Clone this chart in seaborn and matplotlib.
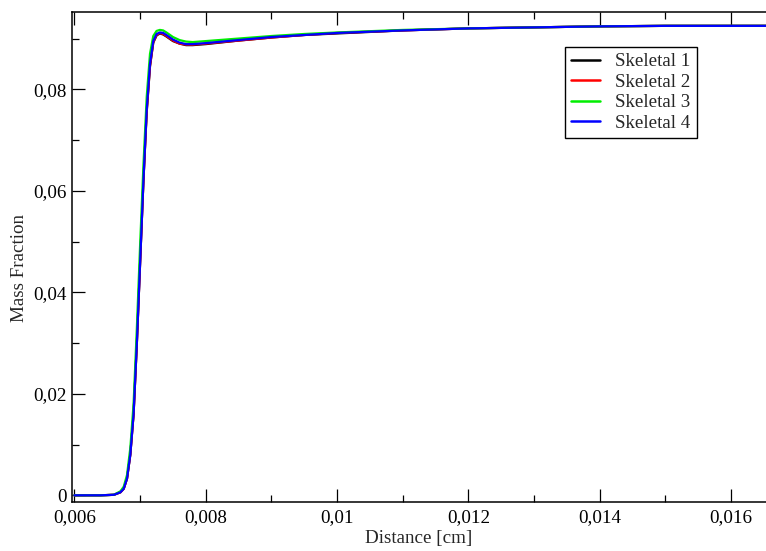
import matplotlib
matplotlib.use("Agg")
import matplotlib.pyplot as plt
from matplotlib.ticker import MultipleLocator, FuncFormatter
import seaborn as sns
import pandas as pd

# Distance along the flame [cm]
distance = [0.0060, 0.0064, 0.0066, 0.0067, 0.00675, 0.0068, 0.00685, 0.0069,
            0.00695, 0.0070, 0.00705, 0.0071, 0.00715, 0.0072, 0.00725, 0.0073,
            0.00735, 0.0074, 0.0075, 0.0076, 0.0077, 0.0078, 0.0080, 0.0085,
            0.0090, 0.0095, 0.0100, 0.0110, 0.0120, 0.0130, 0.0140, 0.0150,
            0.0160, 0.0170]

skeletal_1 = [0.0000, 0.0000, 0.0001, 0.0006, 0.0013, 0.0033, 0.0080, 0.0160,
              0.0300, 0.0460, 0.0620, 0.0755, 0.0845, 0.0892, 0.0906, 0.0910,
              0.0908, 0.0904, 0.0895, 0.0890, 0.0887, 0.0887, 0.0889, 0.0896,
              0.0902, 0.0907, 0.0910, 0.0916, 0.0920, 0.0922, 0.0924, 0.0925,
              0.0925, 0.0925]

skeletal_2 = [0.0000, 0.0000, 0.0001, 0.0006, 0.0013, 0.0033, 0.0080, 0.0160,
              0.0300, 0.0460, 0.0620, 0.0757, 0.0846, 0.0893, 0.0907, 0.0911,
              0.0909, 0.0905, 0.0896, 0.0890, 0.0888, 0.0888, 0.0890, 0.0896,
              0.0902, 0.0907, 0.0911, 0.0916, 0.0920, 0.0922, 0.0924, 0.0925,
              0.0925, 0.0925]

skeletal_3 = [0.0000, 0.0000, 0.0001, 0.0008, 0.0017, 0.0040, 0.0093, 0.0180,
              0.0330, 0.0495, 0.0650, 0.0785, 0.0870, 0.0905, 0.0915, 0.0917,
              0.0916, 0.0912, 0.0903, 0.0897, 0.0894, 0.0893, 0.0895, 0.0900,
              0.0905, 0.0909, 0.0912, 0.0917, 0.0920, 0.0922, 0.0924, 0.0925,
              0.0925, 0.0925]

skeletal_4 = [0.0000, 0.0000, 0.0001, 0.0006, 0.0013, 0.0033, 0.0080, 0.0160,
              0.0300, 0.0460, 0.0620, 0.0760, 0.0850, 0.0895, 0.0909, 0.0912,
              0.0911, 0.0907, 0.0898, 0.0892, 0.0889, 0.0889, 0.0891, 0.0897,
              0.0903, 0.0907, 0.0911, 0.0916, 0.0920, 0.0922, 0.0924, 0.0925,
              0.0925, 0.0925]

labels = ["Skeletal 1", "Skeletal 2", "Skeletal 3", "Skeletal 4"]
colors = ["#000000", "#ff0000", "#00ee00", "#0000ff"]

frames = []
for name, values in zip(labels, [skeletal_1, skeletal_2, skeletal_3, skeletal_4]):
    frames.append(pd.DataFrame({"Distance": distance, "Mass Fraction": values,
                                "Mechanism": name}))
data = pd.concat(frames, ignore_index=True)

sns.set_theme(style="ticks")
plt.rcParams["font.family"] = ["Liberation Serif", "DejaVu Serif"]

FS = 13.7
W, H = 766, 551
fig = plt.figure(figsize=(W / 100, H / 100), dpi=100)
left, right, top, bottom = 72, 766, 12, 501.7
ax = fig.add_axes([left / W, (H - bottom) / H, (right - left) / W, (bottom - top) / H])

sns.lineplot(data=data, x="Distance", y="Mass Fraction", hue="Mechanism",
             palette=colors, hue_order=labels, linewidth=1.6, ax=ax,
             sort=False, estimator=None)

ax.set_xlim(0.005962, 0.016533)
ax.set_ylim(-0.00126, 0.09523)

ax.xaxis.set_major_locator(MultipleLocator(0.002))
ax.xaxis.set_minor_locator(MultipleLocator(0.001))
ax.yaxis.set_major_locator(MultipleLocator(0.02))
ax.yaxis.set_minor_locator(MultipleLocator(0.01))

def comma_fmt(v, pos):
    if abs(v) < 1e-12:
        return "0"
    s = f"{v:.3f}".rstrip("0")
    return s.replace(".", ",")

ax.xaxis.set_major_formatter(FuncFormatter(comma_fmt))
ax.yaxis.set_major_formatter(FuncFormatter(comma_fmt))

ax.tick_params(axis="both", which="both", direction="in", top=True, right=False,
               colors="black", labelsize=FS)
ax.tick_params(axis="both", which="major", length=9.5, width=0.9)
ax.tick_params(axis="both", which="minor", length=5, width=0.9)
ax.tick_params(axis="x", which="major", pad=5)
ax.tick_params(axis="y", which="major", pad=4)

for side in ["left", "bottom", "top"]:
    ax.spines[side].set_linewidth(1.1)
    ax.spines[side].set_color("black")
ax.spines["right"].set_visible(False)

ax.set_xlabel("Distance [cm]", fontsize=FS, labelpad=3)
ax.set_ylabel("Mass Fraction", fontsize=FS)
ax.yaxis.set_label_coords(-0.064, 0.477)

leg = ax.legend(loc="upper right", bbox_to_anchor=(0.900, 0.929),
                borderaxespad=0, fontsize=FS, frameon=True, fancybox=False,
                edgecolor="black", framealpha=1, handlelength=1.5,
                labelspacing=0.17, borderpad=0.32, handletextpad=0.8)
leg.get_frame().set_linewidth(1.0)
for line in leg.get_lines():
    line.set_linewidth(1.8)

fig.savefig("out.png", dpi=100)
